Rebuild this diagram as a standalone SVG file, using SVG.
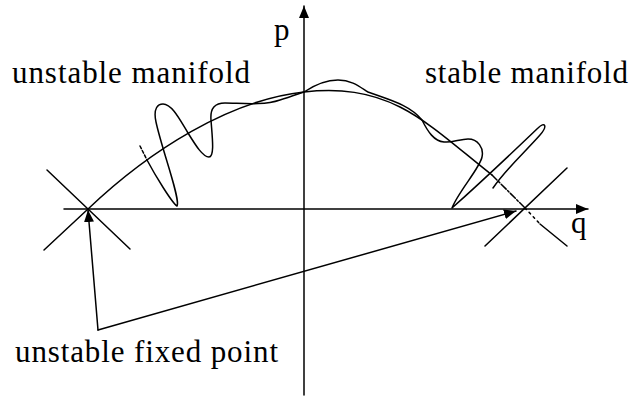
<svg xmlns="http://www.w3.org/2000/svg" width="632" height="398" viewBox="0 0 632 398">
<style>
.ln{fill:none;stroke:#000;stroke-width:1.5;stroke-linecap:round;stroke-linejoin:round}
.lbl{font-family:"Liberation Serif","Times New Roman",serif;font-size:31px;fill:#000}
</style>
<defs>
<marker id="ah" viewBox="0 0 12 10" refX="12" refY="5" markerWidth="12" markerHeight="10" orient="auto" markerUnits="userSpaceOnUse">
<path d="M0,0 L12,5 L0,10 z" fill="#000"/>
</marker>
</defs>
<rect width="632" height="398" fill="#fff"/>
<g id="axes">
<line class="ln" x1="304" y1="395" x2="304" y2="6" marker-end="url(#ah)"/>
<line class="ln" x1="64" y1="209" x2="588" y2="209" marker-end="url(#ah)"/>
<text class="lbl" x="274" y="40">p</text>
<text class="lbl" x="571" y="233">q</text>
</g>
<g id="left-fixed-point">
<line class="ln" x1="47" y1="170" x2="130" y2="249"/>
<line class="ln" x1="44" y1="250" x2="88" y2="209"/>
</g>
<g id="right-fixed-point">
<line class="ln" x1="485" y1="246" x2="567" y2="168"/>
<line class="ln" x1="540" y1="224" x2="567" y2="246"/>
</g>
<g id="separatrix">
<path class="ln" d="M88,209 C150,150 230,100 304,92 C340,88 370,92 400,107 C430,122 460,150 492,175"/>
<path class="ln" d="M492,175 L525,208" stroke-dasharray="7 2 2 2"/>
<path class="ln" d="M525,208 L540,224" stroke-dasharray="2 4"/>
</g>
<g id="perturbed-manifold">
<path class="ln" d="M140,146 L147,160" stroke-dasharray="3 2"/>
<path class="ln" d="M147,160 C155,175 172,203 177,206 C181,200 162,150 156,122 C153,108 158,104 163,104 C172,104 180,120 188,133 C196,146 203,157 209,157 C215,157 212,135 211,120 C210,108 215,103 225,103 C240,103 262,106 280,100 C290,97 298,94 304,92 C316,84 326,80 338,80 C352,80 360,87 368,92 C390,100 410,105 422,120 C428,132 434,141 444,142 C452,143 460,139 468,139 C478,139 484,148 482,157 C480,168 458,192 452,208 C470,192 515,150 538,128 C545,121 548,126 540,135 C525,152 505,170 493,188"/>
</g>
<g id="labels">
<text class="lbl" x="12" y="83" textLength="238" lengthAdjust="spacing">unstable manifold</text>
<text class="lbl" x="425" y="83" textLength="203" lengthAdjust="spacing">stable manifold</text>
<text class="lbl" x="15" y="362" textLength="263" lengthAdjust="spacing">unstable fixed point</text>
</g>
<g id="connectors">
<path class="ln" d="M98,330 L88,210" marker-end="url(#ah)"/>
<path class="ln" d="M98,330 L516,211" marker-end="url(#ah)"/>
</g>
</svg>
